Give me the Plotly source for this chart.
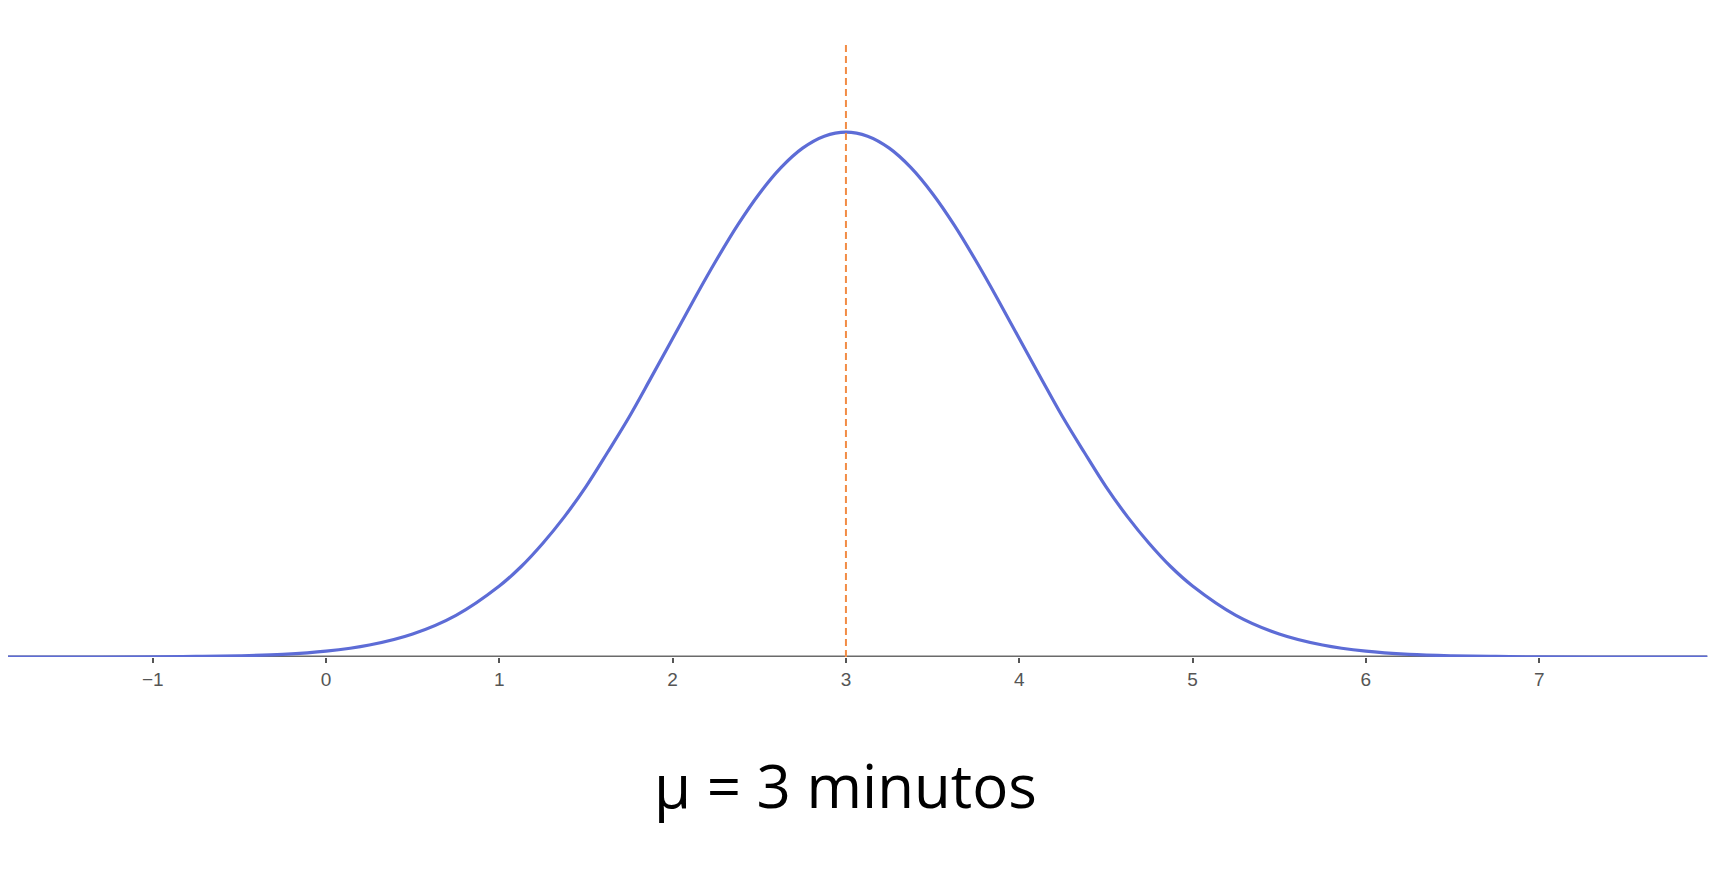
import plotly.graph_objects as go

# Curve points (x in minutes, y = density)
curve_x = [-1.9, -1.5, -1.0, -0.75, -0.5, -0.25, 0.0, 0.25, 0.5, 0.75, 1.0, 1.125, 1.25, 1.375,
           1.5, 1.625, 1.75, 1.875, 2.0, 2.125, 2.25, 2.375, 2.5, 2.625, 2.75, 2.875, 3.0,
           3.125, 3.25, 3.375, 3.5, 3.625, 3.75, 3.875, 4.0, 4.125, 4.25, 4.375, 4.5, 4.625,
           4.75, 4.875, 5.0, 5.25, 5.5, 5.75, 6.0, 6.25, 6.5, 6.75, 7.0, 7.5, 7.97]
curve_y = [0.000, 0.000, 0.0001, 0.0004, 0.0009, 0.002, 0.0044, 0.0091, 0.0175, 0.0317, 0.054,
           0.0686, 0.0863, 0.1065, 0.1295, 0.1556, 0.1826, 0.2121, 0.242, 0.2721, 0.3011,
           0.3282, 0.3521, 0.3719, 0.3867, 0.3958, 0.3989, 0.3958, 0.3867, 0.3719, 0.3521,
           0.3282, 0.3011, 0.2721, 0.242, 0.2121, 0.1826, 0.1556, 0.1295, 0.1065, 0.0863,
           0.0686, 0.054, 0.0317, 0.0175, 0.0091, 0.0044, 0.002, 0.0009, 0.0004, 0.0001,
           0.000, 0.000]

tick_vals = [-1, 0, 1, 2, 3, 4, 5, 6, 7]
tick_text = ["\u22121", "0", "1", "2", "3", "4", "5", "6", "7"]

mean_value = 3
mean_line_top = 0.4666
label_text = "\u03bc = 3 minutos"

# page has an 8px body margin; figure sized to fit inside it
W, H = 1701, 853
axis_px = 649
x_range = [-1.835, 7.980]
y_top = 0.4932

fig = go.Figure()
fig.add_trace(go.Scatter(
    x=curve_x, y=curve_y, mode="lines",
    line=dict(color="#5d6cd6", width=3.2, shape="spline", smoothing=1.0),
    cliponaxis=False, hoverinfo="skip", showlegend=False,
))

# x axis line
fig.add_shape(type="line", x0=x_range[0], x1=7.97, y0=0, y1=0,
              xref="x", yref="y", line=dict(color="#6a6a6a", width=3), layer="below")
# mean dashed line
fig.add_shape(type="line", x0=mean_value, x1=mean_value, y0=0, y1=mean_line_top,
              xref="x", yref="y", line=dict(color="#f28c45", width=2, dash="7px,4px"))

fig.add_annotation(text=label_text, x=mean_value, xref="x", y=(H - 777) / H, yref="paper",
                   xanchor="center", yanchor="middle", showarrow=False,
                   font=dict(family="Open Sans", size=60, color="#000000"))

fig.update_layout(
    width=W, height=H,
    margin=dict(l=0, r=0, t=0, b=0),
    paper_bgcolor="white", plot_bgcolor="white",
    xaxis=dict(range=x_range, tickvals=tick_vals, ticktext=tick_text,
               showgrid=False, zeroline=False, showline=False,
               ticks="outside", ticklen=5, tickwidth=2, tickcolor="#555555",
               tickfont=dict(family="Liberation Sans", size=19, color="#555555"),
               anchor="y", fixedrange=True),
    yaxis=dict(range=[0, y_top], domain=[(H - axis_px) / H, 1],
               visible=False, fixedrange=True),
)

fig.write_html("out.html")
